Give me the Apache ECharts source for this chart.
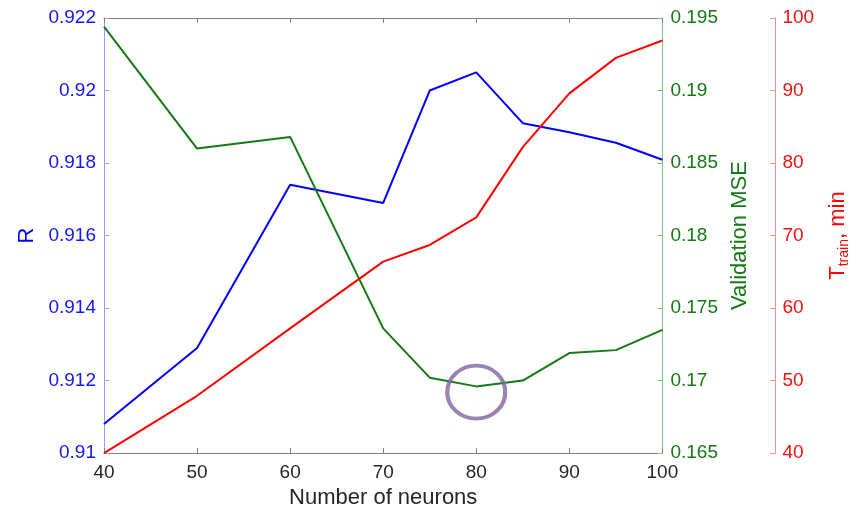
<!DOCTYPE html>
<html>
<head>
<meta charset="utf-8">
<script src="https://cdn.jsdelivr.net/npm/echarts@6/dist/echarts.min.js"></script>
<style>
  html, body { margin: 0; padding: 0; background: #fff; overflow: hidden; }
  #chart { width: 859px; height: 514px; }
</style>
</head>
<body>
<div id="chart"></div>
<script>
// Network size sweep: correlation, validation error and training time
const neurons = [40, 50, 60, 70, 75, 80, 85, 90, 95, 100];
const rValues = [0.9108, 0.9129, 0.9174, 0.9169, 0.9200, 0.9205, 0.9191, 0.91885, 0.91856, 0.91809];
const mseValues = [0.1944, 0.1860, 0.1868, 0.1736, 0.1702, 0.1696, 0.1700, 0.1719, 0.1721, 0.1735];
const trainMinutes = [40, 47.9, 57.2, 66.4, 68.7, 72.5, 82.2, 89.6, 94.5, 96.9];

// Highlighted optimum (neurons, MSE)
const highlight = [[80, 0.1692]];

const FONT = 'Liberation Sans, Arial, sans-serif';
const BLUE = '#0000ff';
const GREEN = '#137a13';
const RED = '#ff0000';

const chart = echarts.init(document.getElementById('chart'), null, {
  renderer: 'canvas', width: 859, height: 514
});

const xBase = {
  type: 'value', min: 40, max: 100, interval: 10,
  axisLine: { show: true, lineStyle: { color: '#808080', width: 1 } },
  axisTick: { show: true, inside: true, length: 5, lineStyle: { color: '#808080' } },
  splitLine: { show: false }
};

chart.setOption({
  animation: false,
  backgroundColor: '#fff',
  grid: { left: 104, right: 194, top: 18, bottom: 57, containLabel: false },
  xAxis: [
    Object.assign({}, xBase, {
      position: 'bottom',
      name: 'Number of neurons',
      nameLocation: 'middle',
      nameGap: 30,
      nameTextStyle: { color: '#262626', fontSize: 22, fontFamily: FONT, verticalAlign: 'top' },
      axisLabel: { color: '#262626', fontSize: 19, fontFamily: FONT, margin: 10 }
    }),
    Object.assign({}, xBase, {
      position: 'top',
      axisLabel: { show: false }
    })
  ],
  yAxis: [
    {
      type: 'value', min: 0.91, max: 0.922, interval: 0.002, position: 'left',
      name: 'R', nameLocation: 'middle', nameGap: 65, nameRotate: 90,
      nameTextStyle: { color: BLUE, fontSize: 22, fontFamily: FONT },
      axisLine: { show: true, lineStyle: { color: '#9a9aff', width: 1 } },
      axisTick: { show: true, inside: true, length: 5, lineStyle: { color: '#9a9aff' } },
      axisLabel: { color: '#1515f0', fontSize: 19, fontFamily: FONT, margin: 8,
        formatter: v => String(parseFloat(v.toFixed(3))) },
      splitLine: { show: false }
    },
    {
      type: 'value', min: 0.165, max: 0.195, interval: 0.005, position: 'right',
      name: 'Validation MSE', nameLocation: 'middle', nameGap: 68, nameRotate: 90,
      nameTextStyle: { color: GREEN, fontSize: 22, fontFamily: FONT, verticalAlign: 'bottom' },
      axisLine: { show: true, lineStyle: { color: '#80bf80', width: 1 } },
      axisTick: { show: true, inside: true, length: 5, lineStyle: { color: '#80bf80' } },
      axisLabel: { color: GREEN, fontSize: 19, fontFamily: FONT, margin: 8,
        formatter: v => String(parseFloat(v.toFixed(3))) },
      splitLine: { show: false }
    },
    {
      type: 'value', min: 40, max: 100, interval: 10, position: 'right', offset: 113,
      name: '{t|T}{s|train}{t|, min}', nameLocation: 'middle', nameGap: 46, nameRotate: 90,
      nameTextStyle: {
        color: RED, fontSize: 22, fontFamily: FONT, verticalAlign: 'bottom',
        rich: {
          t: { color: RED, fontSize: 22, fontFamily: FONT, lineHeight: 26 },
          s: { color: RED, fontSize: 14, fontFamily: FONT, lineHeight: 26, padding: [12, 0, 0, 0] }
        }
      },
      axisLine: { show: true, lineStyle: { color: '#f09090', width: 1 } },
      axisTick: { show: true, inside: true, length: 5, lineStyle: { color: '#f09090' } },
      axisLabel: { color: '#ee1111', fontSize: 19, fontFamily: FONT, margin: 7 },
      splitLine: { show: false }
    }
  ],
  series: [
    {
      name: 'R', type: 'line', xAxisIndex: 0, yAxisIndex: 0,
      data: neurons.map((n, i) => [n, rValues[i]]),
      showSymbol: false, symbol: 'none',
      lineStyle: { color: BLUE, width: 2 }, z: 3
    },
    {
      name: 'Validation MSE', type: 'line', xAxisIndex: 0, yAxisIndex: 1,
      data: neurons.map((n, i) => [n, mseValues[i]]),
      showSymbol: false, symbol: 'none',
      lineStyle: { color: GREEN, width: 2 }, z: 3
    },
    {
      name: 'Training time', type: 'line', xAxisIndex: 0, yAxisIndex: 2,
      data: neurons.map((n, i) => [n, trainMinutes[i]]),
      showSymbol: false, symbol: 'none',
      lineStyle: { color: RED, width: 2 }, z: 3
    },
    {
      name: 'Optimum', type: 'scatter', xAxisIndex: 0, yAxisIndex: 1,
      data: highlight,
      symbol: 'circle', symbolSize: [58, 53],
      itemStyle: { color: 'rgba(0,0,0,0)', borderColor: '#8064a2', borderWidth: 4 },
      silent: true, z: 5
    }
  ]
});
</script>
</body>
</html>
